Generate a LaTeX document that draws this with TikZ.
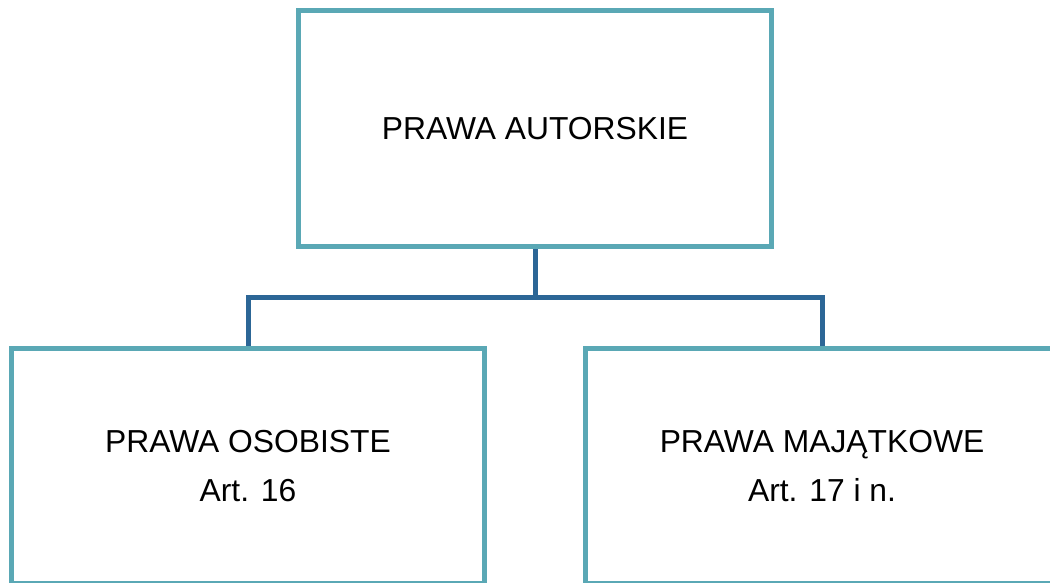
\documentclass[tikz,border=0pt]{standalone}
\usepackage{fontspec}
\setmainfont{Liberation Sans}
\definecolor{boxline}{RGB}{90,168,181}
\definecolor{linkline}{RGB}{44,102,150}

\begin{document}
\begin{tikzpicture}[
  x=0.02cm, y=-0.02cm,
  rbox/.style={draw=boxline, line width=0.1cm, fill=white,
    minimum width=9.48cm, minimum height=4.72cm, align=center,
    font=\fontsize{18.1}{28.4}\selectfont},
  link/.style={draw=linkline, line width=0.1cm},
]

\useasboundingbox (0,0) rectangle (1050,582);
\clip (0,0) rectangle (1050,582);

\node [rbox] (autor) at (535,128.75) {PRAWA AUTORSKIE};
\node [rbox] (osob) at (248,466) {PRAWA OSOBISTE\\Art. 16};
\node [rbox] (majat) at (822,466) {PRAWA MAJĄTKOWE\\Art. 17 i n.};

\coordinate (fork) at (535,297);
\draw [link] (autor.south) -- (fork);
\draw [link] (fork) -| (osob.north);
\draw [link] (fork) -| (majat.north);

\end{tikzpicture}
\end{document}
